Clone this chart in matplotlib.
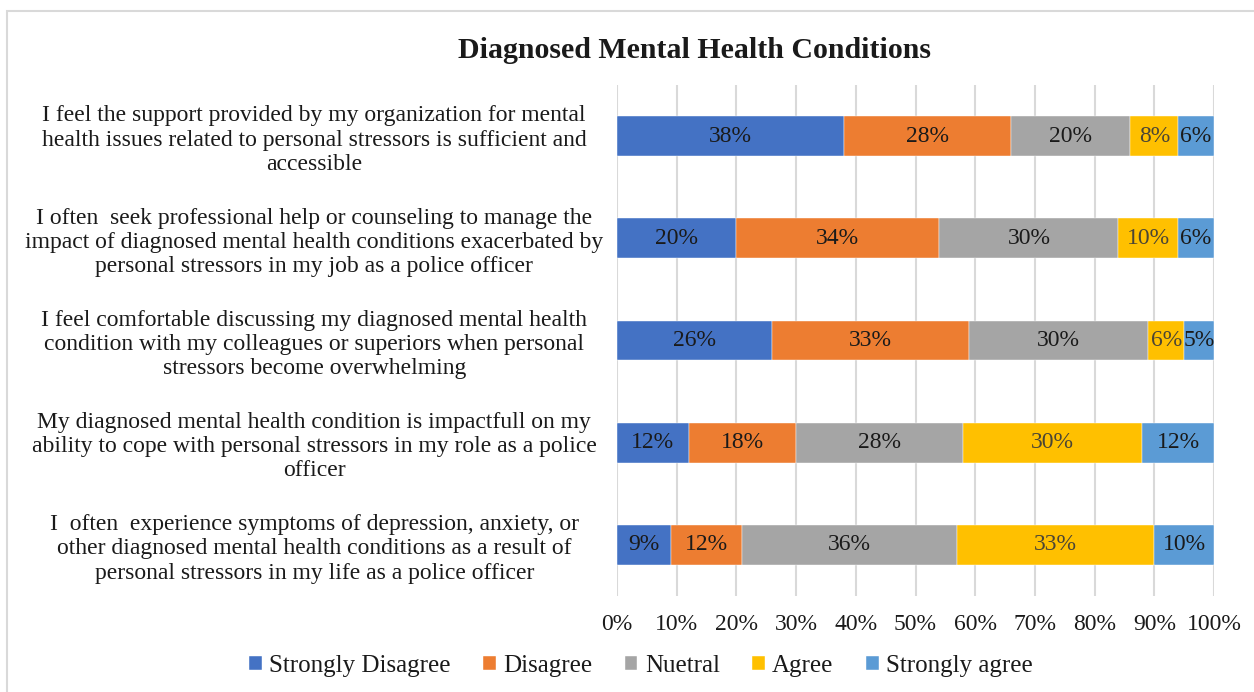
import matplotlib
matplotlib.use("Agg")
import matplotlib.pyplot as plt
from matplotlib.patches import Rectangle
import numpy as np

categories = [
    "I feel the support provided by my organization for mental\nhealth issues related to personal stressors is sufficient and\naccessible",
    "I often  seek professional help or counseling to manage the\nimpact of diagnosed mental health conditions exacerbated by\npersonal stressors in my job as a police officer",
    "I feel comfortable discussing my diagnosed mental health\ncondition with my colleagues or superiors when personal\nstressors become overwhelming",
    "My diagnosed mental health condition is impactfull on my\nability to cope with personal stressors in my role as a police\nofficer",
    "I  often  experience symptoms of depression, anxiety, or\nother diagnosed mental health conditions as a result of\npersonal stressors in my life as a police officer",
]
series_names = ["Strongly Disagree", "Disagree", "Nuetral", "Agree", "Strongly agree"]
strongly_disagree = [38, 20, 26, 12, 9]
disagree = [28, 34, 33, 18, 12]
neutral = [20, 30, 30, 28, 36]
agree = [8, 10, 6, 30, 33]
strongly_agree = [6, 6, 5, 12, 10]
x_ticks = [0, 10, 20, 30, 40, 50, 60, 70, 80, 90, 100]
title = "Diagnosed Mental Health Conditions"

colors = ["#4472C4", "#ED7D31", "#A5A5A5", "#FFC000", "#5B9BD5"]
label_colors = ["#1a1a1a", "#1a1a1a", "#1a1a1a", "#4a4535", "#1a1a1a"]

plt.rcParams['font.family'] = ['Liberation Serif', 'DejaVu Serif']

fig = plt.figure(figsize=(12.54, 6.92), dpi=100)
ax = fig.add_axes([617/1254, 1-596/692, (1214-617)/1254, 511/692])

# frame around chart area
fig.patches.append(Rectangle((7/1254, -0.05), 1.2, 1-11/692+0.05, transform=fig.transFigure,
                             fill=False, edgecolor="#D9D9D9", linewidth=1.5))

data = [strongly_disagree, disagree, neutral, agree, strongly_agree]
y = np.arange(len(categories))
left = np.zeros(len(categories))
handles = []
for name, vals, c, lc in zip(series_names, data, colors, label_colors):
    vals = np.array(vals, dtype=float)
    bars = ax.barh(y, vals, left=left, height=0.39, color=c, label=name,
                   edgecolor="white", linewidth=0.3, zorder=3)
    handles.append(bars)
    for yi, l, v in zip(y, left, vals):
        ax.text(l + v/2, yi, f"{int(v)}%", ha="center", va="center",
                fontsize=17, color=lc, zorder=4)
    left += vals

ax.set_xlim(0, 100)
ax.set_ylim(len(categories)-0.5, -0.5)
ax.set_xticks(x_ticks)
ax.set_xticklabels([f"{t}%" for t in x_ticks], fontsize=17, color="#1a1a1a")
ax.set_yticks(y)
ax.set_yticklabels(categories, fontsize=17, color="#1a1a1a", ha="center",
                   linespacing=1.2)
ax.tick_params(axis="y", length=0, pad=218)
ax.tick_params(axis="x", length=0, pad=13)
for s in ax.spines.values():
    s.set_visible(False)
ax.grid(axis="x", color="#D9D9D9", linewidth=1.5, zorder=0)
ax.set_axisbelow(True)

fig.text(694/1254, 1-50/692, title, ha="center", va="center", fontsize=21.5,
         fontweight="bold", color="#1a1a1a")

fig.legend(handles=handles, labels=series_names, loc="center",
           bbox_to_anchor=(641/1254, 1-666/692), ncol=5, frameon=False,
           fontsize=18, handlelength=0.5, handleheight=0.5, handletextpad=0.3,
           columnspacing=1.3, labelcolor="#1a1a1a")

fig.savefig("out.png", dpi=100)
